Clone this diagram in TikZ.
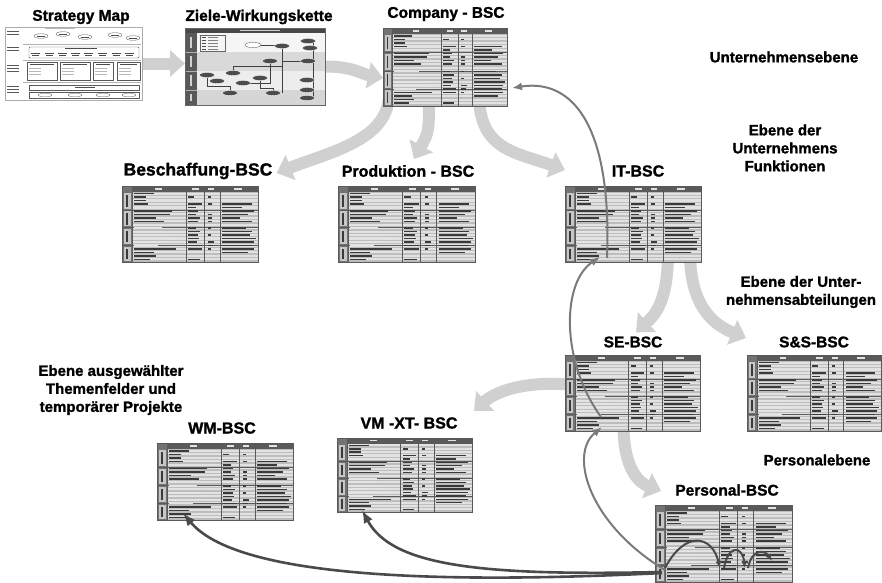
\documentclass[tikz,border=0pt]{standalone}
\usepackage{fontspec}
\setmainfont[BoldFeatures={FakeBold=1.4}]{Liberation Sans}
\usetikzlibrary{arrows.meta,calc}
\pgfdeclarelayer{bg}
\pgfdeclarelayer{flows}
\pgfsetlayers{bg,flows,main}

\definecolor{flowgray}{HTML}{D0D0D0}
\definecolor{linkgray}{HTML}{7A7A7A}
\definecolor{darklink}{HTML}{4A4A4A}
\definecolor{tabfill}{HTML}{BDBDBD}
\definecolor{tabrow}{HTML}{E2E2E2}
\definecolor{tabdark}{HTML}{5A5A5A}
\definecolor{tabtext}{HTML}{3A3A3A}

% miniature scorecard sheet inside node #1, drawn in a 136 x 77 local grid
\newcommand\bscsheet[1]{%
  \pgfpointdiff{\pgfpointanchor{#1}{north west}}{\pgfpointanchor{#1}{south east}}%
  \pgfgetlastxy\bscW\bscH
  \pgfmathsetmacro\bscsx{\bscW/136}%
  \pgfmathsetmacro\bscsy{\bscH/77}%
  \begin{scope}[shift={(#1.north west)}, x=\bscsx pt, y=\bscsy pt]
    \fill[tabfill] (0,0) rectangle (136,77);
    \foreach \k in {0,...,19} {\fill[tabrow] (10,{6.6+3.5*\k}) rectangle (136,{8.8+3.5*\k});}
    \fill[tabdark] (10,0) rectangle (136,6);
    \foreach \xx/\ll in {33/7,70/7,86/6,112/8} {\fill[tabrow] (\xx,2.3) rectangle ++(\ll,1.3);}
    \fill[tabdark!85] (0,0) rectangle (10,77);
    \foreach \ya/\yb in {6/24,24.6/42,42.6/60,60.6/77}
      {\fill[gray!45] (2,\ya+1) rectangle (8.5,\yb-1);
       \fill[tabtext] (4.4,\ya+3) rectangle (6,\yb-3);}
    \draw[tabdark, line width=0.5pt] (10,0) -- (10,77) (64,6) -- (64,77) (82,6) -- (82,77) (98,6) -- (98,77);
    \draw[tabdark, line width=0.7pt] (0,24.3) -- (136,24.3) (0,42.3) -- (136,42.3) (0,60.3) -- (136,60.3);
    \foreach \k/\ll in {0/20,1/12,2/12,3/14,5/38,6/36,7/22,8/30,16/42,17/20,18/22,19/16}
      {\fill[tabtext] (12,{7+3.5*\k}) rectangle ++(\ll,1.5);}
    \foreach \k/\ll in {10/28,11/30,12/34,13/40,14/36,15/24}
      {\fill[white!80!gray] (12,{7+3.5*\k}) rectangle ++(\ll,1.5);}
    \foreach \k/\ll in {1/6,3/14,4/8,5/10,6/8,7/12,8/10,10/8,11/12,12/10,13/11,14/9,15/14,16/14,19/12}
      {\fill[tabtext] (66,{7+3.5*\k}) rectangle ++(\ll,1.5);}
    \foreach \k/\ll in {1/3,3/4,6/4,7/4,8/4,10/3,12/3,14/6,15/5,16/3}
      {\fill[tabtext] (86,{7+3.5*\k}) rectangle ++(\ll,1.5);}
    \foreach \k/\ll in {3/30,4/20,5/32,6/26,7/18,8/30,10/24,11/30,12/28,13/34,14/32,15/30,16/32,17/26}
      {\fill[tabtext] (100,{7+3.5*\k}) rectangle ++(\ll,1.5);}
  \end{scope}
  \draw[tabdark, line width=0.6pt] (#1.north west) rectangle (#1.south east);}

% miniature strategy map inside node #1 (137 x 73)
\newcommand\smapsheet[1]{%
  \begin{scope}[shift={(#1.north west)}]
    \draw[gray!60, line width=0.4pt] (18,17) -- (136,17) (18,33) -- (136,33) (18,55) -- (136,55);
    \foreach \yy in {4,7,20,23,38,41,44,59,62,65} {\fill[gray!70!black] (2,\yy) rectangle ++(12,1.1);}
    \fill[gray!55] (40,1) rectangle ++(30,1.2);
    \foreach \xx/\yy in {36/9,58/7,80/10,110/8,128/11}
      {\draw[gray!70!black, line width=0.35pt, fill=white] (\xx,\yy) ellipse (7 and 2.3);
       \fill[gray!60!black] (\xx-4,\yy-0.4) rectangle ++(8,0.8);}
    \draw[gray!70!black, line width=0.4pt, rounded corners=1pt] (24,20) rectangle (134,31);
    \fill[gray!60!black] (60,21.2) rectangle ++(32,1.1);
    \foreach \xx in {30,44,57,70,83,97,111,124}
      {\fill[gray!60!black] (\xx-4,25.5) rectangle ++(9,1);
       \fill[gray!60!black] (\xx-3,28) rectangle ++(7,0.8);}
    \foreach \xa/\xb in {22/52,55/85,88/108,112/135}
      {\draw[gray!70!black, line width=0.4pt] (\xa,35.5) rectangle (\xb,53);
       \fill[gray!60!black] (\xa+3,37) rectangle (\xb-3,38.2);
       \foreach \yy in {41,44,47} {\fill[gray!55] (\xa+2,\yy) rectangle ++(12,0.9);}}
    \draw[gray!70!black, line width=0.4pt] (24,58) rectangle (134,63);
    \fill[gray!60!black] (70,59.8) rectangle ++(20,1);
    \draw[gray!70!black, line width=0.4pt] (24,65) rectangle (134,71);
    \foreach \xx in {40,70,98,124} {\draw[gray!70!black, line width=0.3pt] (\xx,68) ellipse (7 and 1.8);}
  \end{scope}
  \draw[gray!65, line width=0.6pt] (#1.north west) rectangle (#1.south east);}

% miniature cause-and-effect chain inside node #1 (140 x 77)
\newcommand\zwksheet[1]{%
  \begin{scope}[shift={(#1.north west)}]
    \fill[gray!8] (12,5) rectangle (140,24);
    \fill[gray!30] (12,24) rectangle (140,43);
    \fill[gray!14] (12,43) rectangle (140,62);
    \fill[gray!32] (12,62) rectangle (140,77);
    \fill[black!72] (0,0) rectangle (140,5);
    \fill[gray!40] (55,1.8) rectangle ++(40,1.4);
    \fill[black!65] (0,5) rectangle (12,77);
    \foreach \ya/\yb in {5/24,24/43,43/62,62/77}
      {\draw[gray!60, line width=0.5pt] (0,\yb) -- (12,\yb);
       \fill[gray!35] (4.5,\ya+4) rectangle (7,\yb-4);}
    \draw[black!60, line width=0.3pt] (15,7) rectangle (40,23);
    \foreach \yy in {9,12,15,18,21}
      {\fill[black!70] (17,\yy) rectangle ++(4,1.2); \fill[black!50] (23,\yy) rectangle ++(10,1.2);}
    \draw[black!75, line width=0.5pt]
      (68,17) -- (97,17) (97,18) -- (97,65) (128,13) -- (128,70)
      (85,33) -- (85,55) -- (58,55) (48,45) -- (48,38) -- (97,38)
      (22,47) -- (22,58) -- (45,58) -- (45,65) (75,50) -- (75,60) -- (88,60) -- (88,65)
      (97,33) -- (123,33);
    \draw[black!60, line width=0.4pt, fill=white] (68,17) ellipse (8 and 2.6);
    \foreach \xx/\yy in {97/18,123/13,125/20,85/33,123/33,22/47,48/45,75/50,32/53,58/55,122/52,45/65,88/65,122/62,122/70}
      {\draw[white, line width=0.4pt, fill=black!70] (\xx,\yy) ellipse (7.5 and 2.6);}
  \end{scope}
  \draw[black!60, line width=0.6pt] (#1.north west) rectangle (#1.south east);}

\tikzset{
  ttl/.style={font=\bfseries\fontsize{15.5}{18}\selectfont, inner sep=0pt},
  midttl/.style={font=\bfseries\fontsize{16}{19}\selectfont, inner sep=0pt},
  bigttl/.style={font=\bfseries\fontsize{17.5}{20}\selectfont, inner sep=0pt},
  lvl/.style={font=\bfseries\fontsize{15}{18}\selectfont, align=center, inner sep=0pt},
  sheet/.style={minimum width=136pt, minimum height=76pt, inner sep=0pt, outer sep=0pt},
  flow/.style={draw=flowgray, line width=12pt, -{Triangle[width=26pt,length=15pt]}},
  link/.style={draw=linkgray, line width=2pt, -{Latex[length=10pt,width=8pt]}},
  feed/.style={draw=darklink, line width=2.6pt, -{Latex[length=13pt,width=10pt]}},
  bump/.style={draw=darklink, line width=2pt, -{Latex[length=7pt,width=6pt]}},
}

\begin{document}
\begin{tikzpicture}[x=1pt, y=-1pt]
\useasboundingbox (0,0) rectangle (882,582);
\begin{pgfonlayer}{bg}
  \fill[white] (0,0) rectangle (882,582);
\end{pgfonlayer}

% sheets
\node[sheet, fill=white, minimum width=137pt, minimum height=73pt] (smap) at (73.5,63.5) {};
\node[sheet, minimum width=140pt, minimum height=77pt] (zwk) at (255,66.5) {};
\node[sheet, minimum width=124pt, minimum height=78pt] (co) at (445,67) {};
\node[sheet] (be) at (190,224) {};
\node[sheet, minimum width=137pt] (pr) at (406.5,224) {};
\node[sheet] (it) at (633,224) {};
\node[sheet, minimum width=135pt] (se) at (632.5,393) {};
\node[sheet, minimum width=134pt] (ss) at (814,393) {};
\node[sheet, minimum height=77pt] (wm) at (225,481.5) {};
\node[sheet, minimum width=135pt, minimum height=74pt] (vm) at (404.5,475) {};
\node[sheet, minimum width=137pt, minimum height=77pt] (pe) at (723.5,543.5) {};

\smapsheet{smap}
\zwksheet{zwk}
\foreach \n in {co,be,pr,it,se,ss,wm,vm,pe} {\bscsheet{\n}}

% titles
\node[ttl] (tsmap) at (81,17) {Strategy Map};
\node[ttl] (tzwk) at (259,17) {Ziele-Wirkungskette};
\node[ttl] (tco) at (446,14) {Company - BSC};
\node[bigttl] (tbe) at (198,171) {Beschaffung-BSC};
\node[midttl] (tpr) at (408,171) {Produktion - BSC};
\node[midttl] (tit) at (638,171) {IT-BSC};
\node[ttl] (tse) at (633,342) {SE-BSC};
\node[ttl] (tss) at (814,342) {S\&S-BSC};
\node[midttl] (twm) at (222,428) {WM-BSC};
\node[midttl] (tvm) at (409,423) {VM -XT- BSC};
\node[ttl] (tpe) at (727,490) {Personal-BSC};

% level labels
\node[lvl] (lvcompany) at (784,57) {Unternehmensebene};
\node[lvl] (lvfunction) at (785,148) {Ebene der\\Unternehmens\\Funktionen};
\node[lvl] (lvdept) at (801,292) {Ebene der Unter-\\nehmensabteilungen};
\node[lvl] (lvtopic) at (111,390) {Ebene ausgewählter\\Themenfelder und\\temporärer Projekte};
\node[lvl] (lvstaff) at (817,460) {Personalebene};

% cascade arrows (behind the sheets)
\begin{pgfonlayer}{flows}
  \draw[flow] (smap.east) -- (smap.east -| zwk.west);
  \draw[flow] ($(zwk.east)+(-2,0)$) .. controls (352,66) and (362,74) .. ($(co.west)+(0,11)$);
  \draw[flow] ($(co.south west)+(6,-12)$) .. controls (389,140) and (330,152) .. ($(tbe.east)+(4,2)$);
  \draw[flow] ($(co.south)+(-16,-12)$) .. controls (429,132) .. ($(tpr.north)+(6,-6)$);
  \draw[flow] ($(co.south)+(34,-12)$) .. controls (479,150) and (515,152) .. ($(it.north west)+(0,-16)$);
  \draw[flow] ($(it.south)+(35,-10)$) .. controls (668,300) and (656,314) .. ($(tse.north)+(3,-4)$);
  \draw[flow] ($(it.south)+(57,-10)$) .. controls (690,305) and (712,324) .. ($(ss.north west)+(-1,-17)$);
  \draw[flow] ($(se.west)+(8,-8)$) .. controls (525,380) and (495,392) .. ($(vm.north east)+(2,-27)$);
  \draw[flow] ($(se.south)+(-9,-8)$) .. controls (623,470) and (640,483) .. ($(pe.north west)+(6,-14)$);
\end{pgfonlayer}

% feedback chain upwards
\draw[link] ($(pe.south west)+(10,-12)$) .. controls (590,525) and (568,455) .. ($(se.south west)+(37,-4)$);
\draw[link] ($(se.south west)+(36,-14)$) .. controls (560,360) and (562,282) .. ($(it.south west)+(35,-5)$);
\draw[link] ($(it.south west)+(42,-4)$) .. controls (612,130) and (575,78) .. ($(co.east)+(5,21)$);

% staff scorecard feeding the topic scorecards
\draw[feed] ($(pe.south west)+(7,-9)$) .. controls (400,586) and (232,572) .. ($(wm.south west)+(26,-7)$);
\draw[feed] ($(pe.south west)+(7,-10)$) .. controls (480,576) and (392,566) .. ($(vm.south west)+(25,-2)$);

% hops inside the staff scorecard
\draw[bump] ($(pe.south west)+(10,-14)$) .. controls (685,530) and (712,535) .. ($(pe.south west)+(65,-14)$);
\draw[bump] ($(pe.south west)+(69,-14)$) .. controls (728,545) and (742,545) .. ($(pe.south west)+(90,-14)$);
\draw[bump] ($(pe.south west)+(93,-14)$) .. controls (752,548) and (765,550) .. ($(pe.south west)+(117,-21)$);
\end{tikzpicture}
\end{document}
